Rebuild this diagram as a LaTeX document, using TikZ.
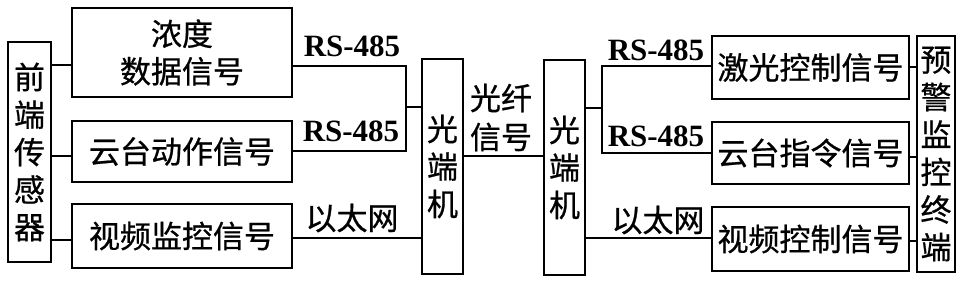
\documentclass[tikz,border=0pt]{standalone}
\usepackage{fontspec}
\newfontfamily\cjk{Noto Sans CJK SC}[FakeBold=0.7]
\newfontfamily\rsfont{Liberation Serif}
\begin{document}
\begin{tikzpicture}[x=1pt,y=-1pt,
  box/.style={draw, line width=2.6pt, inner sep=0pt, font=\cjk\fontsize{31}{37.5}\selectfont, align=center},
  wire/.style={line width=2.6pt},
  lab/.style={inner sep=0pt, font=\cjk\fontsize{31}{38.5}\selectfont, align=center},
  rslab/.style={inner sep=0pt, font=\rsfont\bfseries\fontsize{31}{34}\selectfont}]
\useasboundingbox (0,0) rectangle (964,294);
% boxes
\node[box, minimum width=43pt, minimum height=220pt] (sensor) at (29.5,152) {前\\端\\传\\感\\器};
\node[box, minimum width=220pt, minimum height=89pt] (b1) at (182,52.5) {浓度\\数据信号};
\node[box, minimum width=220pt, minimum height=61pt] (b2) at (182,151.5) {云台动作信号};
\node[box, minimum width=220pt, minimum height=64pt] (b3) at (182,236) {视频监控信号};
\node[box, minimum width=41pt, minimum height=215pt] (oe1) at (442.5,166.5) {光\\端\\机};
\node[box, minimum width=41pt, minimum height=215pt] (oe2) at (564.5,167.5) {光\\端\\机};
\node[box, minimum width=197pt, minimum height=63pt] (r1) at (810.5,67.5) {激光控制信号};
\node[box, minimum width=197pt, minimum height=62pt] (r2) at (810.5,153) {云台指令信号};
\node[box, minimum width=197pt, minimum height=64pt] (r3) at (810.5,239) {视频控制信号};
\node[box, minimum width=38pt, minimum height=236pt] (term) at (936,154) {预\\警\\监\\控\\终\\端};
% junction coordinates
\coordinate (jl1) at (406,66);
\coordinate (jl2) at (406,151);
\coordinate (jlm) at (406,107);
\coordinate (jr1) at (602,66);
\coordinate (jr2) at (602,153);
\coordinate (jrm) at (602,108);
% wires left
\draw[wire] (sensor.east |- 0,65) -- (b1.west |- 0,65);
\draw[wire] (sensor.east |- 0,156) -- (b2.west |- 0,156);
\draw[wire] (sensor.east |- 0,240) -- (b3.west |- 0,240);
\draw[wire] (b1.east |- jl1) -- (jl1) -- (jl2) -- (b2.east |- jl2);
\draw[wire] (jlm) -- (oe1.west |- jlm);
\draw[wire] (b3.east |- 0,238) -- (oe1.west |- 0,238);
\draw[wire] (oe1.east |- 0,156) -- (oe2.west |- 0,156);
% wires right
\draw[wire] (oe2.east |- jrm) -- (jrm);
\draw[wire] (r1.west |- jr1) -- (jr1) -- (jr2) -- (r2.west |- jr2);
\draw[wire] (oe2.east |- 0,238) -- (r3.west |- 0,238);
\draw[wire] (r1.east |- 0,67) -- (term.west |- 0,67);
\draw[wire] (r2.east |- 0,157) -- (term.west |- 0,157);
\draw[wire] (r3.east |- 0,241) -- (term.west |- 0,241);
% labels
\node[rslab] (rs1) at (352,46) {RS-485};
\node[rslab] (rs2) at (351,131) {RS-485};
\node[lab] (eth1) at (352,218) {以太网};
\node[lab] (fib1) at (501,98) {光纤};
\node[lab] (fib2) at (501,137) {信号};
\node[rslab] (rs3) at (656,50) {RS-485};
\node[rslab] (rs4) at (656,136) {RS-485};
\node[lab] (eth2) at (658,220) {以太网};
\end{tikzpicture}
\end{document}
